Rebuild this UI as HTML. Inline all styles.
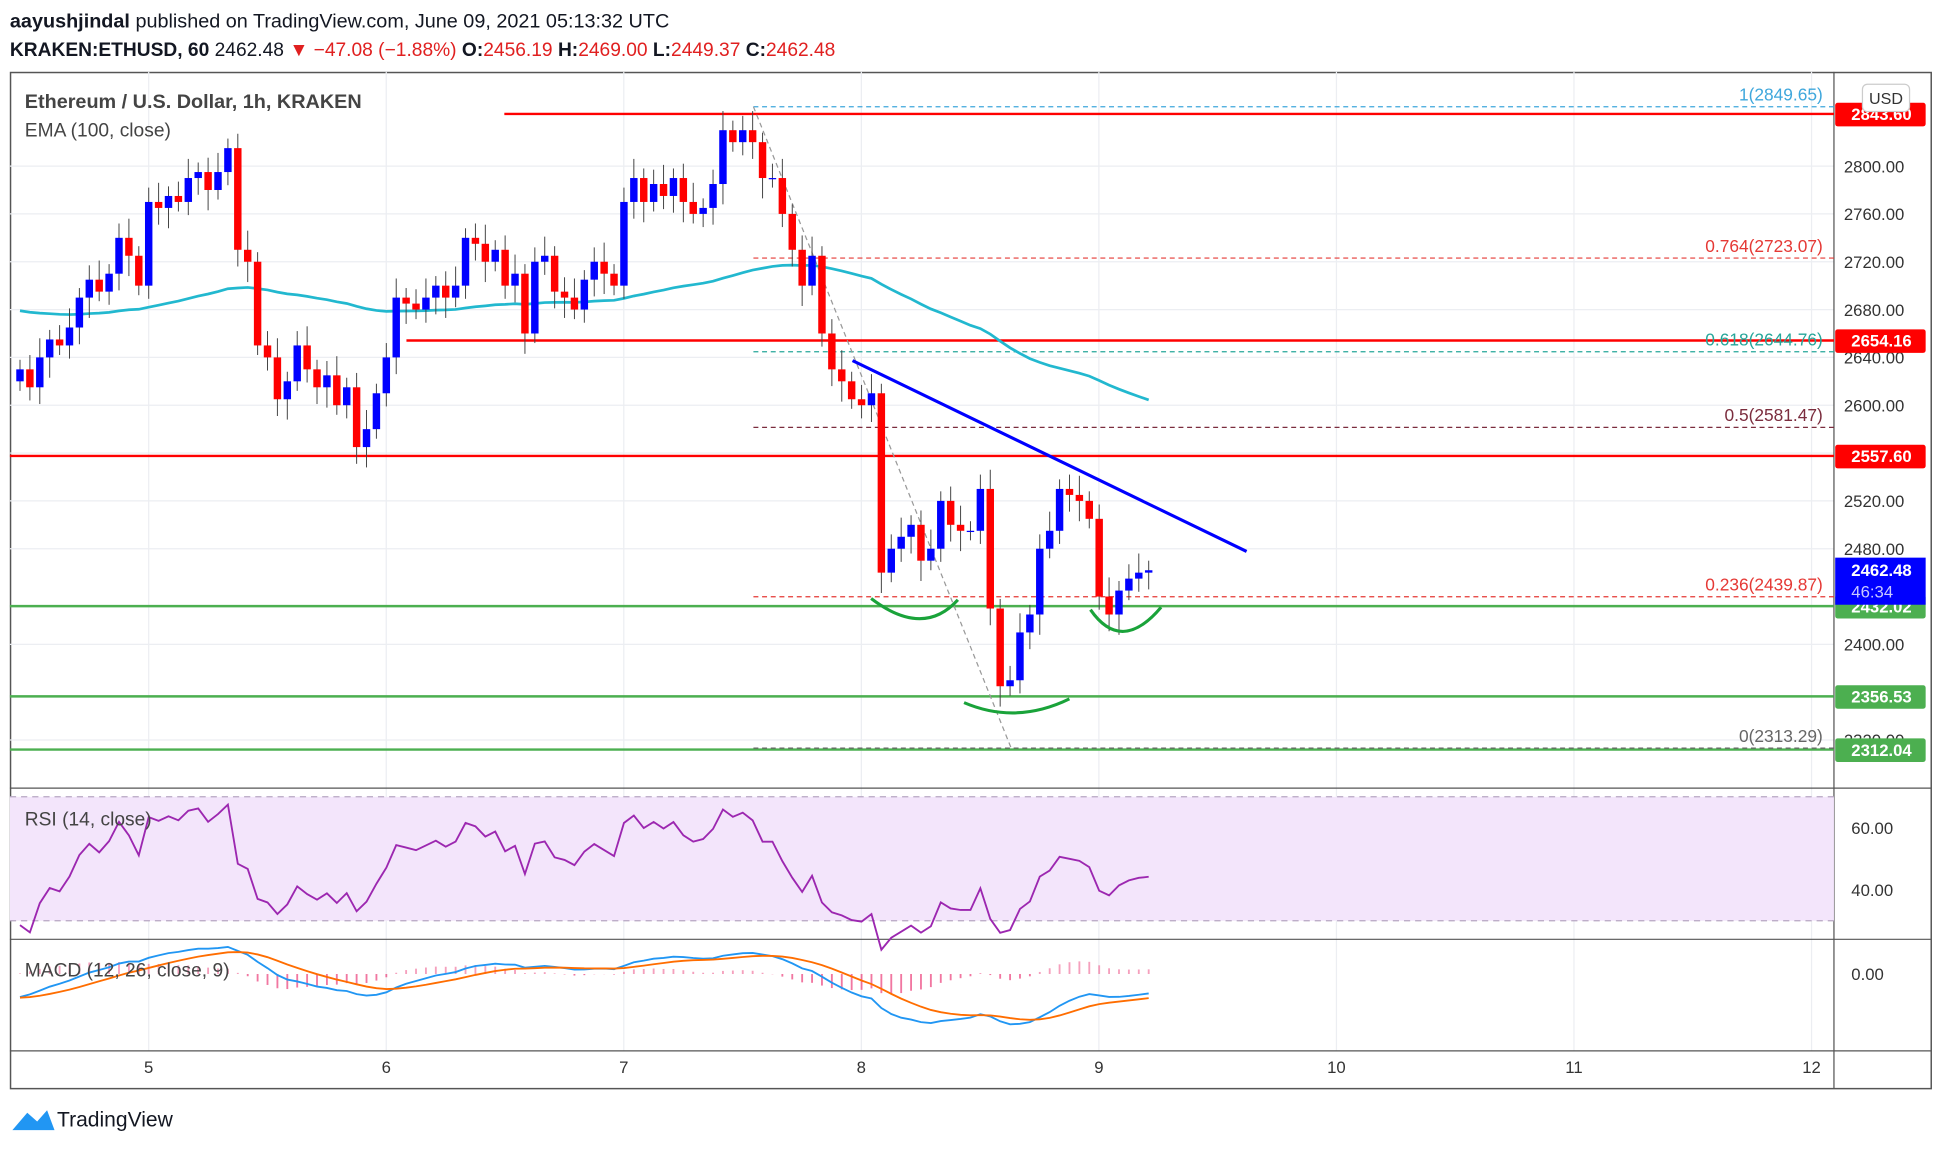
<!DOCTYPE html>
<html><head><meta charset="utf-8"><style>
html,body{margin:0;padding:0;background:#fff;}
svg{display:block;font-family:"Liberation Sans",sans-serif;}
</style></head><body>
<svg id="c" width="1943" height="1149" viewBox="0 0 1568 927.2" xmlns="http://www.w3.org/2000/svg">
<g id="static">
<text x="8" y="22" font-size="16" fill="#131722"><tspan font-weight="bold">aayushjindal</tspan> published on TradingView.com, June 09, 2021 05:13:32 UTC</text>
<text x="8" y="45" font-size="15.5" fill="#131722"><tspan font-weight="bold">KRAKEN:ETHUSD, 60</tspan> 2462.48 <tspan fill="#e02020">▼ −47.08 (−1.88%)</tspan> <tspan font-weight="bold">O:</tspan><tspan fill="#e02020">2456.19</tspan> <tspan font-weight="bold">H:</tspan><tspan fill="#e02020">2469.00</tspan> <tspan font-weight="bold">L:</tspan><tspan fill="#e02020">2449.37</tspan> <tspan font-weight="bold">C:</tspan><tspan fill="#e02020">2462.48</tspan></text>
<rect x="8.5" y="58.5" width="1550" height="820" fill="#fff" stroke="#555" stroke-width="1.2"/>
</g>
<g id="grid"></g>
<g id="rsiBg"></g>
<g id="levels"></g>
<g id="marks"></g>
<g id="axes"></g>
</svg>
<script>
const closes=[2630,2615,2640,2655,2650,2665,2690,2705,2695,2710,2740,2725,2700,2770,2765,2775,2770,2790,2795,2780,2795,2815,2730,2720,2650,2640,2605,2620,2650,2630,2615,2625,2600,2615,2565,2580,2610,2640,2690,2685,2680,2690,2700,2690,2700,2740,2735,2720,2730,2700,2710,2660,2720,2725,2695,2690,2680,2705,2720,2710,2700,2770,2790,2770,2785,2775,2790,2770,2760,2765,2785,2830,2820,2830,2820,2790,2790,2760,2730,2700,2725,2660,2630,2620,2605,2600,2610,2460,2480,2490,2500,2470,2480,2520,2500,2495,2495,2530,2430,2365,2370,2410,2425,2480,2495,2530,2525,2520,2505,2440,2425,2445,2455,2460,2462];
const startHour=-13;
const priceTicks=[2800,2760,2720,2680,2640,2600,2560,2520,2480,2400,2320];
const dayTicks=[5,6,7,8,9,10,11,12];
const rsiTicks=[60,40];
const hLevels=[{p:2843.6,c:"#f00",x0:407,lab:"2843.60"},{p:2654.16,c:"#f00",x0:328,lab:"2654.16"},{p:2557.6,c:"#f00",x0:8,lab:"2557.60"},{p:2432.02,c:"#4caf50",x0:8,lab:"2432.02"},{p:2356.53,c:"#4caf50",x0:8,lab:"2356.53"},{p:2312.04,c:"#4caf50",x0:8,lab:"2312.04"}];
const fibLevels=[{p:2849.65,c:"#3fa7dc",t:"1(2849.65)"},{p:2723.07,c:"#e53935",t:"0.764(2723.07)"},{p:2644.76,c:"#26a69a",t:"0.618(2644.76)"},{p:2581.47,c:"#7b2d3e",t:"0.5(2581.47)"},{p:2439.87,c:"#e53935",t:"0.236(2439.87)"},{p:2313.29,c:"#666",t:"0(2313.29)"}];

const NS="http://www.w3.org/2000/svg";
function mk(parent,tag,attrs,txt){const e=document.createElementNS(NS,tag);for(const k in attrs)e.setAttribute(k,attrs[k]);if(txt!==undefined)e.textContent=txt;document.getElementById(parent).appendChild(e);return e;}
const py=p=>134+(2800-p)*0.965;
const hx=h=>120+h*7.99;
const dx=d=>120+(d-5)*191.7;
const ry=r=>668+(60-r)*2.5;
const my=m=>786-m*0.55;

for(const p of priceTicks){const g=mk("grid","line",{x1:8,x2:1480,y1:py(p),y2:py(p),stroke:"#eceef2"});
}
for(const d of dayTicks){const g=mk("grid","line",{x1:dx(d),x2:dx(d),y1:58,y2:848,stroke:"#eceef2"});
}
for(const yy of [636,758,848]){const l=mk("grid","line",{x1:8,x2:1558,y1:yy,y2:yy,stroke:"#555","stroke-width":1});
}
const vs=mk("grid","line",{x1:1480,x2:1480,y1:58,y2:878,stroke:"#555"});


const rb=mk("rsiBg","rect",{x:8,y:ry(70),width:1472,height:ry(30)-ry(70),fill:"#f3e5fb"});

for(const v of [70,30]){const l=mk("rsiBg","line",{x1:8,x2:1480,y1:ry(v),y2:ry(v),stroke:"#b7a6c2","stroke-dasharray":"5,4"});
}

for(const L of hLevels){const l=mk("levels","line",{x1:L.x0,x2:1480,y1:py(L.p),y2:py(L.p),stroke:L.c,"stroke-width":2});
}
for(const F of fibLevels){const l=mk("levels","line",{x1:608,x2:1480,y1:py(F.p),y2:py(F.p),stroke:F.c,"stroke-dasharray":"4,3","stroke-width":1});

const t=mk("levels","text",{x:1471,y:py(F.p)-5,"text-anchor":"end","font-size":14,fill:F.c},F.t);
}
const dg=mk("levels","line",{x1:608,y1:py(2849.65),x2:816,y2:py(2313.29),stroke:"#999","stroke-dasharray":"4,3"});


let ema=2680,emaPts=[];
closes.forEach((c,i)=>{ema=ema+(c-ema)*2/101;emaPts.push(hx(startHour+i)+","+py(ema));});
const ep=mk("marks","polyline",{points:emaPts.join(" "),fill:"none",stroke:"#22b8cf","stroke-width":2.2});


closes.forEach((c,i)=>{const o=i?closes[i-1]:c-10;const x=hx(startHour+i);const up=c>=o;const col=up?"#0000ff":"#ff0000";
const hi=Math.max(o,c)+8+(i%3)*4,lo=Math.min(o,c)-8-(i%4)*3;
const w=mk("marks","line",{x1:x,x2:x,y1:py(hi),y2:py(lo),stroke:"#444","stroke-width":0.8});

const b=mk("marks","rect",{x:x-3,y:py(Math.max(o,c)),width:6,height:Math.max(1,Math.abs(py(o)-py(c))),fill:col});
});

const tl=mk("marks","line",{x1:688,y1:291,x2:1006,y2:445,stroke:"#0000ff","stroke-width":2.5});

for(const d of ["M703,483 Q745,515 773,484","M778,567 Q820,585 863,564","M880,492 Q905,528 937,490"]){
const a=mk("marks","path",{d:d,fill:"none",stroke:"#1aa33a","stroke-width":2.5});
}

let ag=4,al=10,prev=closes[0],rsiPts=[];
closes.forEach((c,i)=>{const ch=c-prev;prev=c;ag=(ag*13+Math.max(ch,0))/14;al=(al*13+Math.max(-ch,0))/14;const r=100-100/(1+ag/al);rsiPts.push(hx(startHour+i)+","+ry(r));});
const rl=mk("marks","polyline",{points:rsiPts.join(" "),fill:"none",stroke:"#9c27b0","stroke-width":1.5});


let e12=closes[0]-40,e26=closes[0],sig=-35,mPts=[],sPts=[];
closes.forEach((c,i)=>{e12+=(c-e12)*2/13;e26+=(c-e26)*2/27;const m=e12-e26;sig+=(m-sig)*2/10;const x=hx(startHour+i);
mPts.push(x+","+my(m));sPts.push(x+","+my(sig));
const h=m-sig;const hb=mk("marks","line",{x1:x,x2:x,y1:my(0),y2:my(h),stroke:h>=0?"#f06292":"#e91e63","stroke-width":1.5,opacity:0.6});
});
const ml=mk("marks","polyline",{points:mPts.join(" "),fill:"none",stroke:"#2196f3","stroke-width":1.5});

const sl=mk("marks","polyline",{points:sPts.join(" "),fill:"none",stroke:"#ff6d00","stroke-width":1.5});


for(const p of priceTicks){const t=mk("axes","text",{x:1488,y:py(p)+5,"font-size":13.5,fill:"#333"},p.toFixed(2));
}
for(const d of dayTicks){const t=mk("axes","text",{x:dx(d),y:866,"text-anchor":"middle","font-size":13.5,fill:"#333"},String(d));
}
for(const r of rsiTicks){const t=mk("axes","text",{x:1494,y:ry(r)+5,"font-size":13.5,fill:"#333"},r.toFixed(2));
}
const mt=mk("axes","text",{x:1494,y:791,"font-size":13.5,fill:"#333"},"0.00");

for(const L of hLevels){const r=mk("axes","rect",{x:1481,y:py(L.p)-9,width:73,height:19,fill:L.c==="#f00"?"#ff0000":"#4caf50",rx:2});

const t=mk("axes","text",{x:1494,y:py(L.p)+5,"font-size":13.5,"font-weight":"bold",fill:"#fff"},L.lab);
}
const cr=mk("axes","rect",{x:1481,y:450,width:73,height:38,fill:"#0000ff"});

const ct=mk("axes","text",{x:1494,y:465,"font-size":13.5,"font-weight":"bold",fill:"#fff"},"2462.48");

const cd=mk("axes","text",{x:1494,y:482,"font-size":13.5,fill:"#c8c8ff"},"46:34");

const ub=mk("axes","rect",{x:1503,y:68,width:38,height:22,rx:4,fill:"#fff",stroke:"#ccc"});

const ut=mk("axes","text",{x:1522,y:84,"text-anchor":"middle","font-size":13,fill:"#333"},"USD");

const tt=mk("axes","text",{x:20,y:87,"font-size":16,"font-weight":"bold",fill:"#444"},"Ethereum / U.S. Dollar, 1h, KRAKEN");

const et=mk("axes","text",{x:20,y:110,"font-size":15.5,fill:"#444"},"EMA (100, close)");

const rt=mk("axes","text",{x:20,y:666,"font-size":15.5,fill:"#444"},"RSI (14, close)");

const mdt=mk("axes","text",{x:20,y:788,"font-size":15.5,fill:"#444"},"MACD (12, 26, close, 9)");

const lg=mk("axes","path",{d:"M10,912 L22,898 L30,905 L38,896 L44,912 Z",fill:"#2196f3"});

const lt=mk("axes","text",{x:46,y:909,"font-size":17,fill:"#131722"},"TradingView");

</script>
</body></html>
